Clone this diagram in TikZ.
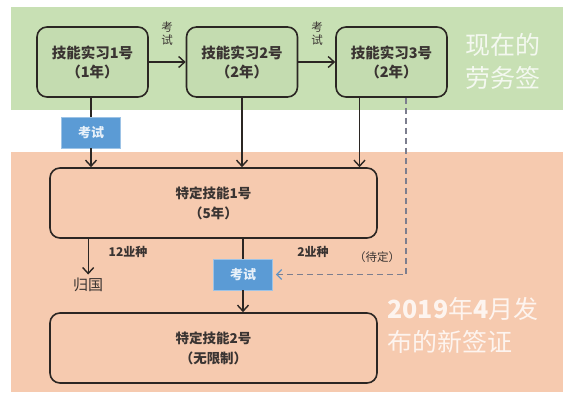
\documentclass[tikz,border=0pt]{standalone}
\usepackage{fontspec}
\setmainfont{Noto Sans CJK SC}
\usetikzlibrary{arrows.meta,calc}
\definecolor{bandgreen}{HTML}{C8E0B4}
\definecolor{boxgreen}{HTML}{C4DCB0}
\definecolor{peach}{HTML}{F6CAAF}
\definecolor{examblue}{HTML}{5B9BD5}
\definecolor{inkdark}{HTML}{2B2623}
\definecolor{txt}{HTML}{3A3432}
\definecolor{dashgray}{HTML}{7C7E8E}
\tikzset{
  trainee/.style={draw=inkdark,line width=1.6pt,rounded corners=10pt,fill=boxgreen,
    minimum width=111pt,minimum height=70pt,align=center,text=txt,
    font=\fontsize{14.5}{19}\selectfont\bfseries},
  skill/.style={draw=inkdark,line width=1.6pt,rounded corners=10pt,fill=peach,
    minimum width=327pt,minimum height=70pt,align=center,text=txt,
    font=\fontsize{13.5}{20}\selectfont\bfseries},
  exam/.style={fill=examblue,draw=examblue!60!white,line width=0.6pt,minimum width=59pt,minimum height=31pt,
    text=white!85!examblue,font=\fontsize{13}{15}\selectfont\bfseries},
  flow/.style={draw=inkdark,line width=1.4pt,-{Straight Barb[length=6pt,width=11pt,line width=1.4pt]}},
  plain/.style={draw=inkdark,line width=1.4pt},
  lbl/.style={text=txt,font=\fontsize{12}{14}\selectfont\bfseries},
  vlbl/.style={text=txt,font=\fontsize{11.5}{13}\selectfont,align=center},
  bigwhite/.style={text=white,opacity=0.8,font=\fontsize{25}{33}\selectfont,align=left},
}
\begin{document}
\begin{tikzpicture}[x=1pt,y=-1pt]
\useasboundingbox[fill=white] (0,0) rectangle (574,405);
\fill[bandgreen] (11,7) rectangle (563,110);
\fill[peach] (11,152) rectangle (563,392);

\node[bigwhite,anchor=west] (now) at (462,61) {现在的\\劳务签};
\node[bigwhite,anchor=west] (new) at (384,325) {\textbf{2019}年\textbf{4}月发\\布的新签证};

\node[trainee] (b1) at (92.5,62) {技能实习1号\\（1年）};
\node[trainee] (b2) at (242,62) {技能实习2号\\（2年）};
\node[trainee] (b3) at (391.5,62) {技能实习3号\\（2年）};

\node[vlbl] (t1) at (167,34) {考\\试};
\node[vlbl] (t2) at (317,34) {考\\试};

\draw[flow] (b1) -- (b2);
\draw[flow] (b2) -- (b3);

\node[skill] (s1) at (213.5,203) {特定技能1号\\（5年）};
\node[skill] (s2) at (213.5,348) {特定技能2号\\（无限制）};

\node[exam] (e1) at (91,132.5) {考试};
\node[exam] (e2) at (243,274.5) {考试};

\draw[plain] (b1.south -| e1) -- (e1.north);
\draw[flow] (e1.south) -- (e1 |- s1.north);
\draw[flow] (b2.south) -- (b2.south |- s1.north);
\coordinate (b3a) at ($(b3.south)+(-32,0)$);
\draw[flow] (b3a) -- (b3a |- s1.north);

\coordinate (b3d) at ($(b3.south)+(14.5,0)$);
\draw[dashgray,line width=1.3pt,dash pattern=on 6pt off 4pt,
  -{Straight Barb[length=5pt,width=10pt,line width=1.3pt,color=examblue!80!dashgray]}]
  (b3d) |- ([xshift=3pt]e2.east);

\node[text=txt,font=\fontsize{15}{17}\selectfont] (home) at (88,285) {归国};
\coordinate (s1g) at ($(s1.south west)+(39,0)$);
\draw[flow] (s1g) -- (home.north -| s1g);
\node[lbl] (n12) at (128,252) {12业种};

\draw[plain] (s1.south -| e2) -- (e2.north);
\draw[flow] (e2.south) -- (e2 |- s2.north);
\node[lbl] (n2) at (313,252) {2业种};
\node[vlbl] (pend) at (377,257) {（待定）};
\end{tikzpicture}
\end{document}
